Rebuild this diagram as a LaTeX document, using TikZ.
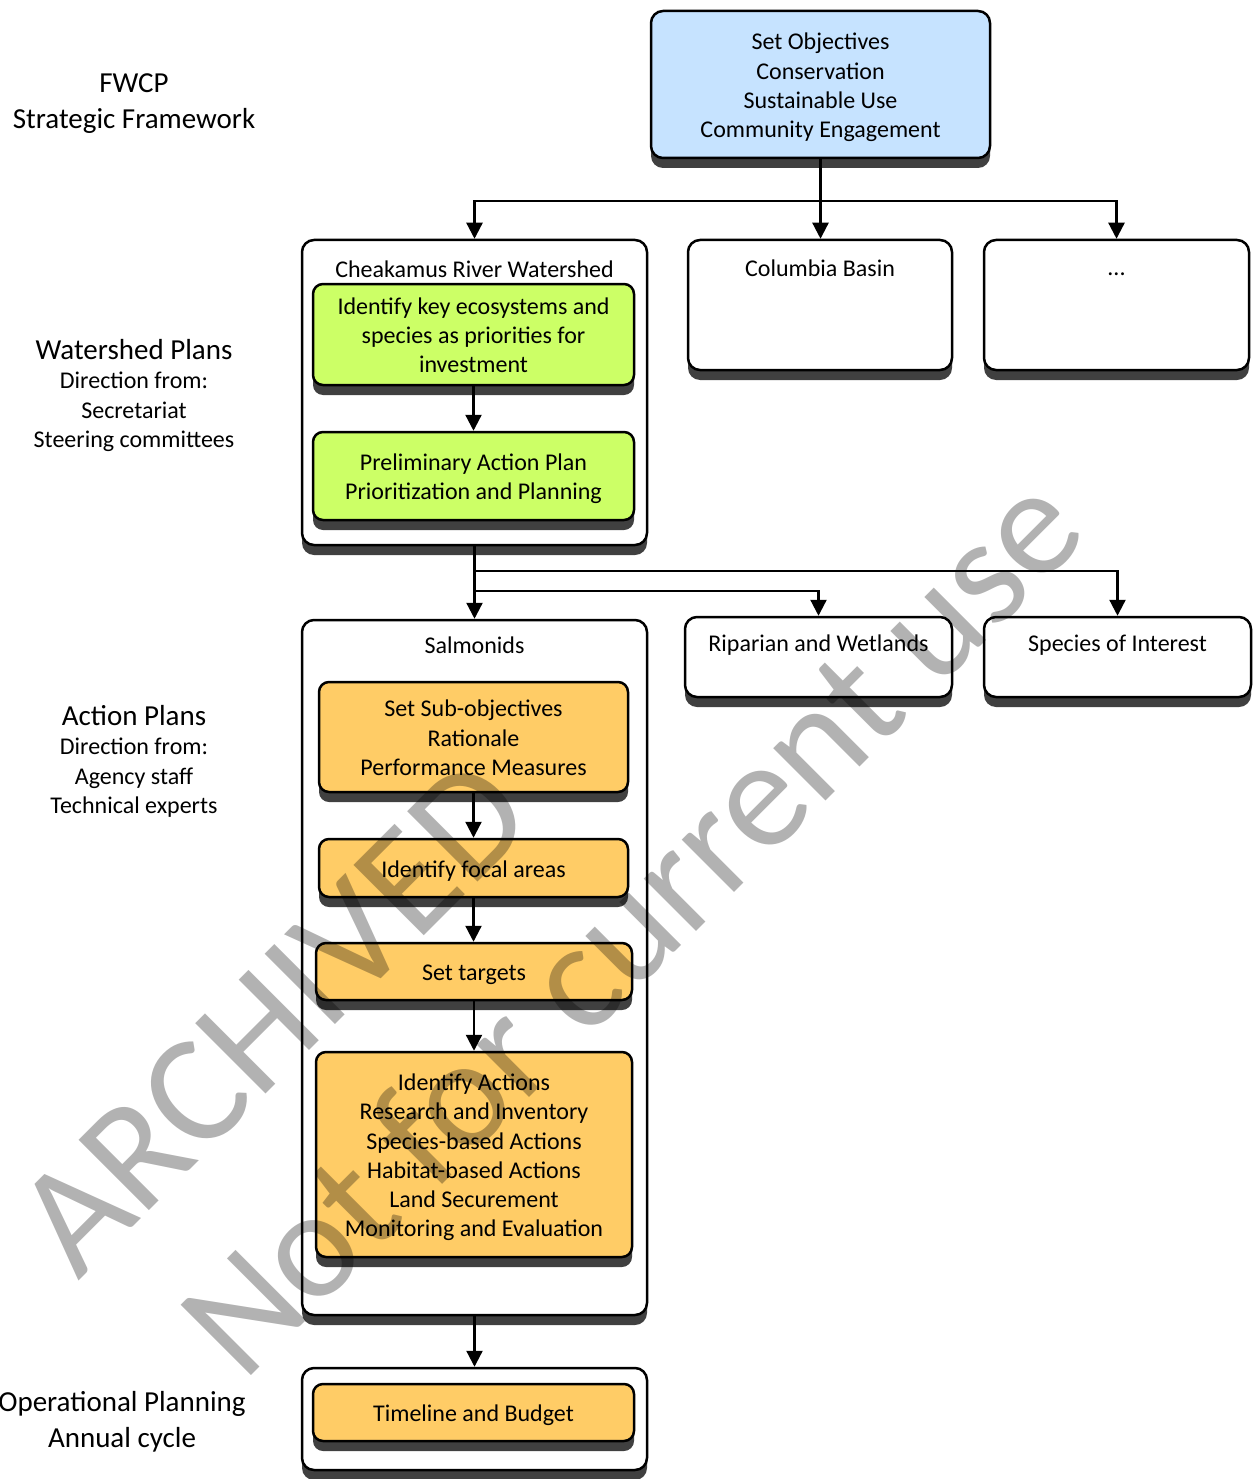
\documentclass[tikz,border=0pt]{standalone}
\usepackage{fontspec}
\setmainfont{Carlito}
\usetikzlibrary{arrows.meta,shadows}
\definecolor{boxblue}{RGB}{198,227,255}
\definecolor{boxgreen}{RGB}{204,255,102}
\definecolor{boxorange}{RGB}{255,204,102}
\definecolor{shadowgray}{RGB}{64,64,64}
\newcommand\lnstrut{\rule[-0.23em]{0pt}{1.22em}}
\begin{document}
\begin{tikzpicture}[x=1pt,y=-1pt,
  box/.style={draw=black,line width=2.5pt,rounded corners=12pt,inner sep=0pt,fill=white,
    align=center,font=\fontsize{24}{29.2}\selectfont,
    execute at begin node=\lnstrut,execute at end node=\lnstrut,
    drop shadow={shadow xshift=0pt,shadow yshift=-10pt,fill=shadowgray,opacity=1}},
  inbox/.style={box,rounded corners=10pt},
  blue/.style={fill=boxblue},
  green/.style={fill=boxgreen},
  orange/.style={fill=boxorange},
  txt/.style={inner sep=0pt,align=center,font=\fontsize{24}{29.2}\selectfont,
    execute at begin node=\lnstrut,execute at end node=\lnstrut},
  bigtxt/.style={txt,font=\fontsize{29}{35.4}\selectfont},
  arr/.style={line width=2.3pt,-{Triangle[length=16pt,width=16pt]}},
  wmark/.style={inner sep=0pt,anchor=base west,rotate=45,text=black,text opacity=0.3,
    font=\fontsize{155}{186}\selectfont}
]
\useasboundingbox (0,0) rectangle (1253,1479);

% top
\node[box,blue,minimum width=339pt,minimum height=147pt] (obj) at (820.5,84.5)
  {\lnstrut Set Objectives\\Conservation\\Sustainable Use\\Community Engagement};

% watershed level containers
\node[box,minimum width=345pt,minimum height=305pt] (chk) at (474.5,392.5) {};
\node[txt] (chkt) at (474.5,268) {Cheakamus River Watershed};
\node[box,minimum width=264pt,minimum height=130pt] (colb) at (820,305) {};
\node[txt] (colbt) at (820,267) {Columbia Basin};
\node[box,minimum width=265pt,minimum height=130pt] (dots) at (1116.5,305) {};
\node[txt] (dotst) at (1116.5,266) {...};

\node[inbox,green,minimum width=321pt,minimum height=101pt] (g1) at (473.5,334.5)
  {\lnstrut Identify key ecosystems and\\species as priorities for\\investment};
\node[inbox,green,minimum width=321pt,minimum height=88pt] (g2) at (473.5,476)
  {\lnstrut Preliminary Action Plan\\Prioritization and Planning};

% action plan level
\node[box,minimum width=345pt,minimum height=695pt] (sal) at (474.5,967.5) {};
\node[txt] (salt) at (474.5,644) {Salmonids};
\node[box,minimum width=267pt,minimum height=80pt] (rip) at (818.5,657) {};
\node[txt] (ript) at (818.5,642) {Riparian and Wetlands};
\node[box,minimum width=267pt,minimum height=80pt] (spc) at (1117.5,657) {};
\node[txt] (spct) at (1117.5,642) {Species of Interest};

\node[inbox,orange,minimum width=309pt,minimum height=110pt] (o1) at (473.5,737)
  {\lnstrut Set Sub-objectives\\Rationale\\Performance Measures};
\node[inbox,orange,minimum width=309pt,minimum height=58pt] (o2) at (473.5,868)
  {Identify focal areas};
\node[inbox,orange,minimum width=316pt,minimum height=57pt] (o3) at (474,971.5)
  {Set targets};
\node[inbox,orange,minimum width=316pt,minimum height=205pt] (o4) at (474,1154.5)
  {\lnstrut Identify Actions\\Research and Inventory\\Species-based Actions\\Habitat-based Actions\\Land Securement\\Monitoring and Evaluation};

% operational
\node[box,minimum width=345pt,minimum height=102pt] (ops) at (474.5,1419) {};
\node[inbox,orange,minimum width=321pt,minimum height=57pt] (tb) at (473.5,1412.5)
  {Timeline and Budget};

% left labels
\node[bigtxt] (fwcp) at (134,99.5) {\lnstrut FWCP\\Strategic Framework};
\node[bigtxt] (wsp) at (134,348) {Watershed Plans};
\node[txt] (wsd) at (134,409) {\lnstrut Direction from:\\Secretariat\\Steering committees};
\node[bigtxt] (acp) at (134,714) {Action Plans};
\node[txt] (acd) at (134,775) {\lnstrut Direction from:\\Agency staff\\Technical experts};
\node[bigtxt] (opl) at (122,1418.5) {\lnstrut Operational Planning\\Annual cycle};

% connectors
\coordinate (f1) at (820.5,201);
\draw[arr] (obj.south) -- (obj.south |- colb.north);
\draw[arr] (f1) -| (chk.north);
\draw[arr] (f1) -| (dots.north);
\draw[arr] (g1.south) -- (g2.north);

\coordinate (f2) at (474.5,571);
\coordinate (f3) at (474.5,591);
\draw[arr] (chk.south) -- (sal.north);
\draw[arr] (f2) -| (spc.north);
\draw[arr] (f3) -| (rip.north);

\draw[arr] (o1.south) -- (o2.north);
\draw[arr] (o2.south) -- (o2.south |- o3.north);
\draw[arr] (o3.south) -- (o4.north);
\draw[arr] (sal.south) -- (ops.north);

% watermark
\node[wmark] (wm1) at (78,1282) {ARCHIVED};
\node[wmark] (wm2) at (243,1384) {Not for current use};
\end{tikzpicture}
\end{document}
